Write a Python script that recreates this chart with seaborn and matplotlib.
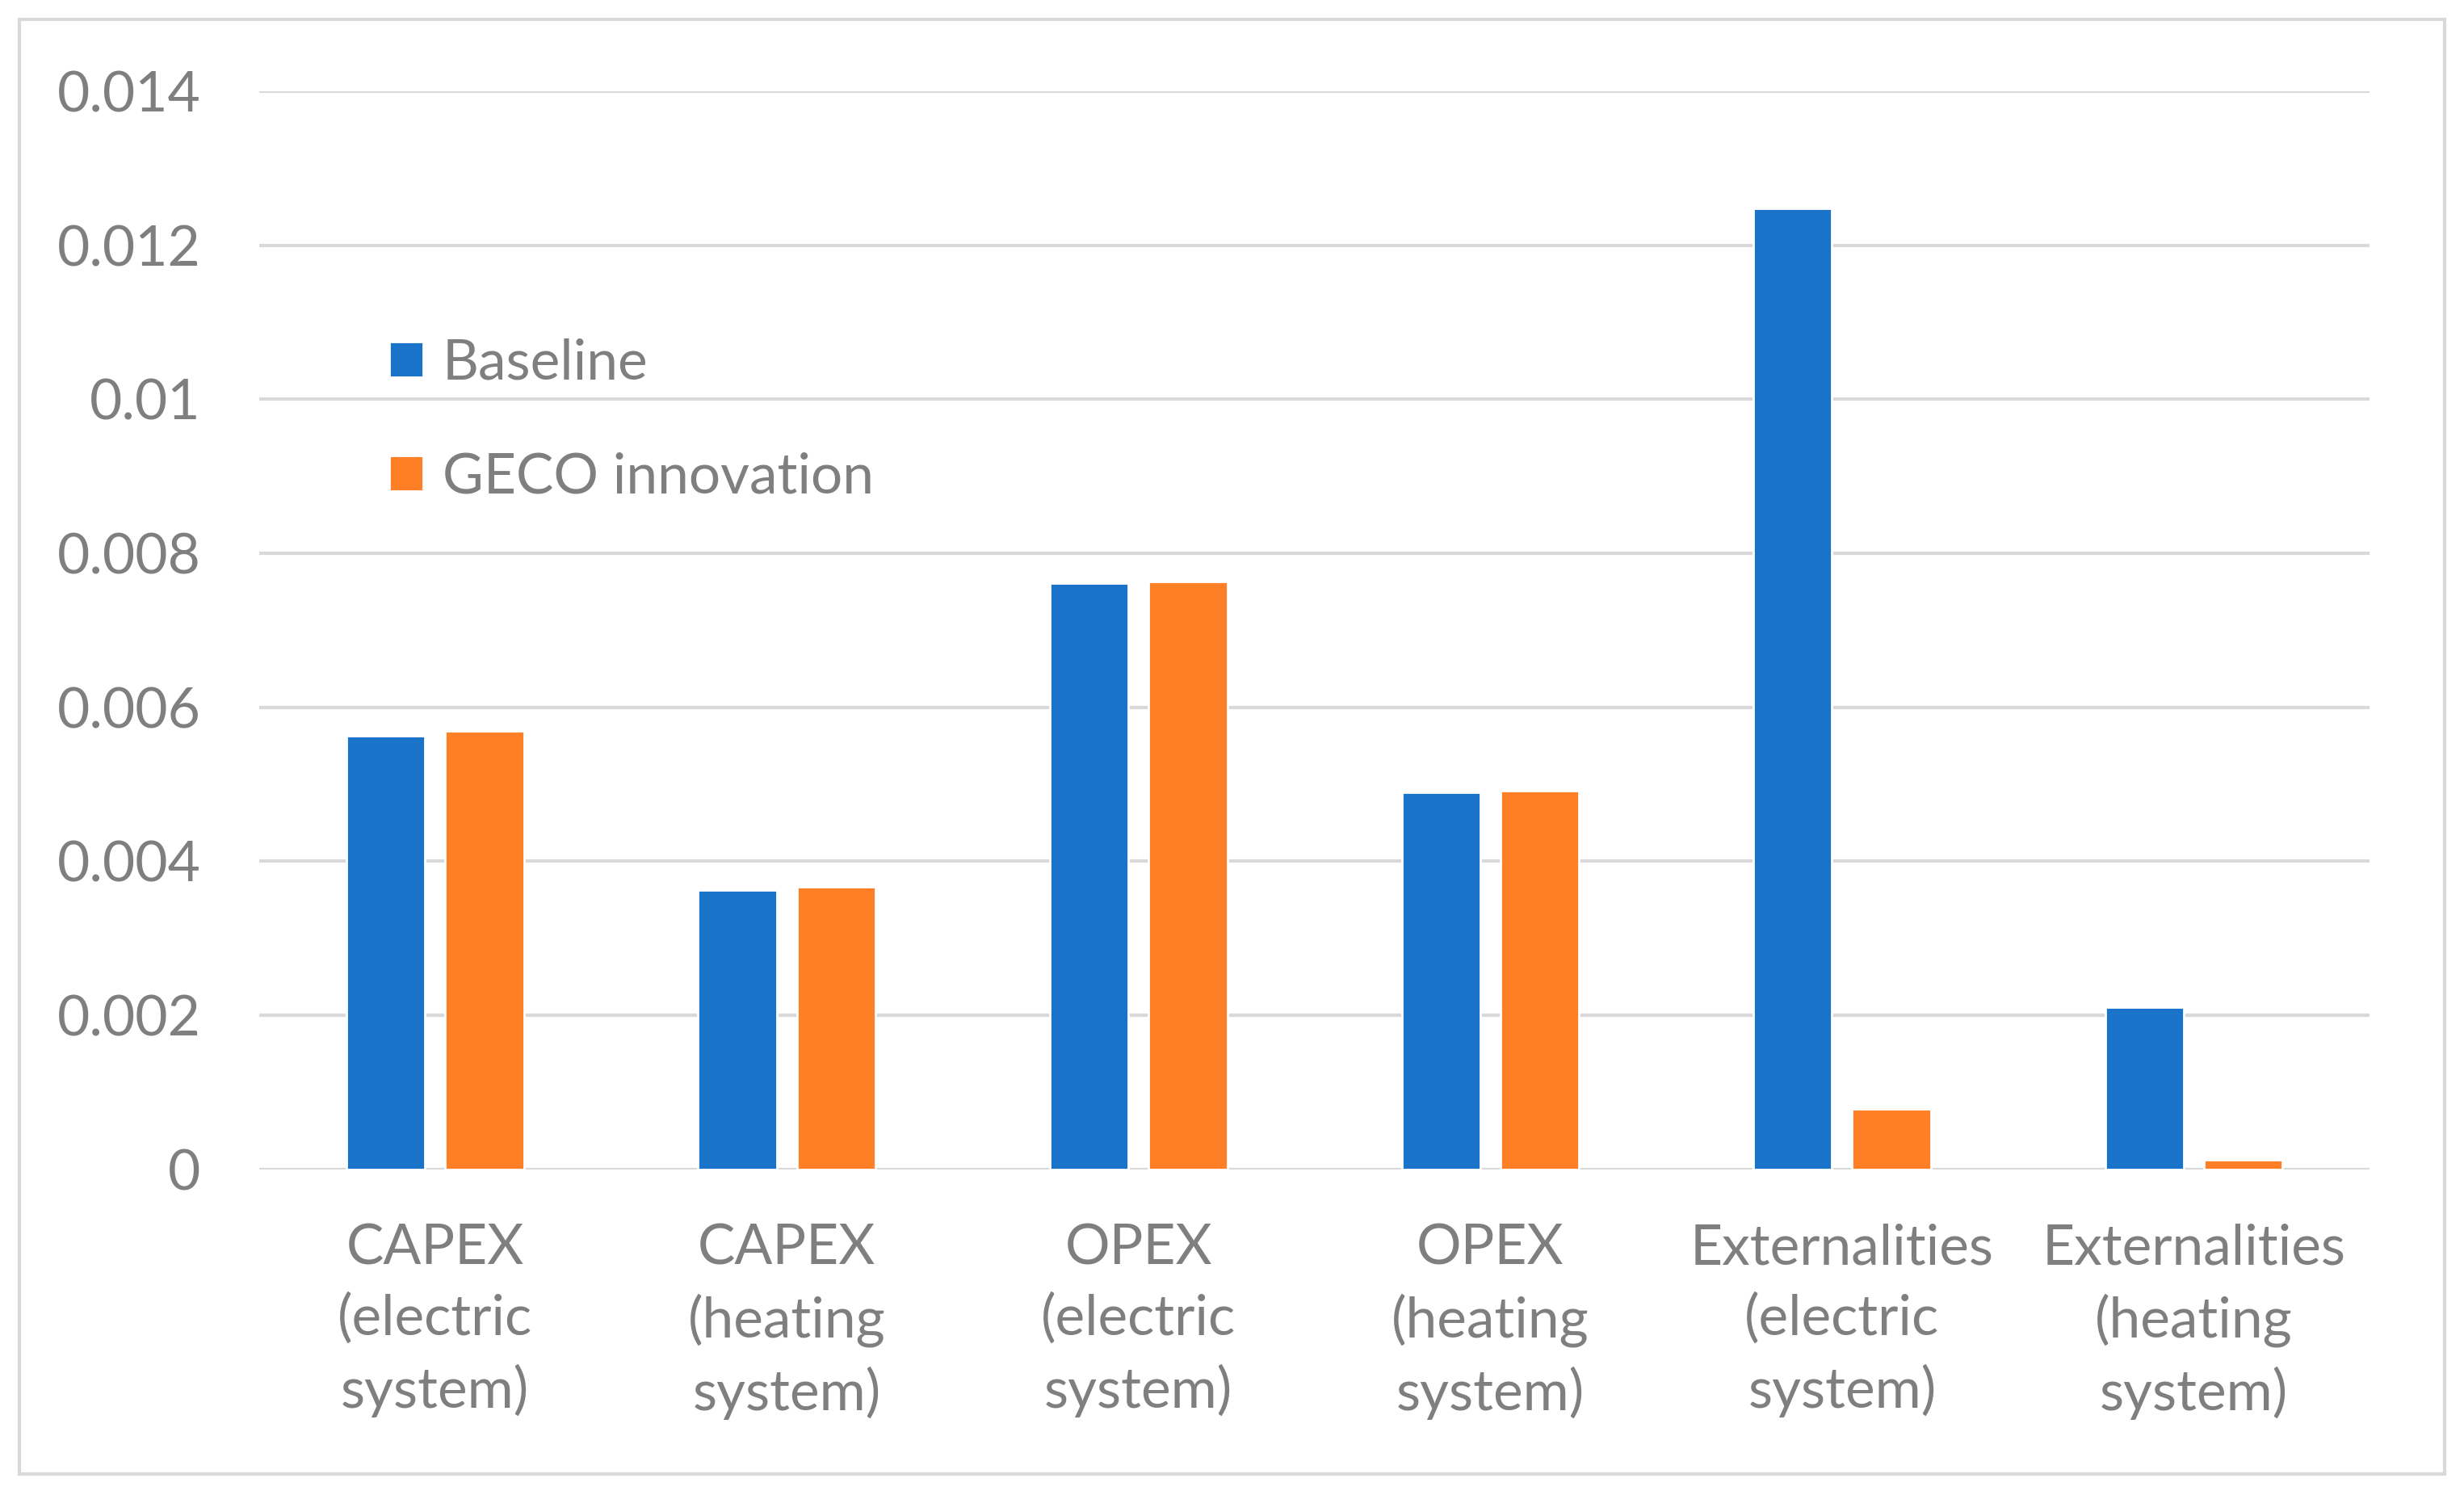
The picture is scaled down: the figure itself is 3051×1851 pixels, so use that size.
import pandas as pd
import matplotlib
matplotlib.use("Agg")
import matplotlib.pyplot as plt
import seaborn as sns

# valores
categories = ["CAPEX\n(electric\nsystem)", "CAPEX\n(heating\nsystem)", "OPEX\n(electric\nsystem)",
              "OPEX\n(heating\nsystem)", "Externalities\n(electric\nsystem)", "Externalities\n(heating\nsystem)"]
baseline = [0.00563, 0.00363, 0.00761, 0.00490, 0.01248, 0.00210]
geco = [0.00569, 0.00367, 0.00763, 0.00492, 0.00078, 0.00012]
series_names = ["Baseline", "GECO innovation"]
yticks = [0, 0.002, 0.004, 0.006, 0.008, 0.01, 0.012, 0.014]
ytick_labels = ["0", "0.002", "0.004", "0.006", "0.008", "0.01", "0.012", "0.014"]

df = pd.DataFrame({
    "cat": categories * 2,
    "val": baseline + geco,
    "serie": [series_names[0]] * len(categories) + [series_names[1]] * len(categories),
})

sns.set_theme(style="white")
plt.rcParams["font.family"] = ["Lato", "DejaVu Sans"]

cinza = "#7f7f7f"
grade = "#d9d9d9"

fig = plt.figure(figsize=(15.255, 9.255), dpi=200)
ax = fig.add_axes([0.1052, 0.2179, 0.8565, 0.7210])

sns.barplot(data=df, x="cat", y="val", hue="serie", palette=["#1873c9", "#ff7f27"],
            width=0.562, gap=0.206, saturation=1, ax=ax, zorder=3)

ax.set_ylim(0, 0.014)
ax.set_xlim(-0.5, len(categories) - 0.5)
ax.set_yticks(yticks)
ax.set_yticklabels(ytick_labels)
ax.yaxis.grid(True, color=grade, linewidth=1.5, zorder=0)
ax.set_axisbelow(True)
for s in ax.spines.values():
    s.set_visible(False)
ax.set_xlabel("")
ax.set_ylabel("")
ax.tick_params(axis="y", length=0, pad=26, labelsize=25, labelcolor=cinza)
ax.tick_params(axis="x", length=0, pad=24, labelsize=25, labelcolor=cinza)
for t in ax.get_xticklabels():
    t.set_linespacing(1.44)

ax.legend(loc="upper left", bbox_to_anchor=(0.051, 0.792), frameon=False, fontsize=25,
          labelcolor=cinza, handlelength=0.6, handleheight=0.6, handletextpad=0.35,
          labelspacing=1.12, borderaxespad=0)

# moldura externa
fig.patches.append(plt.Rectangle((0.008, 0.014), 0.984, 0.973, transform=fig.transFigure,
                                 fill=False, edgecolor=grade, linewidth=1.5))

fig.savefig("out.png", dpi=200)
